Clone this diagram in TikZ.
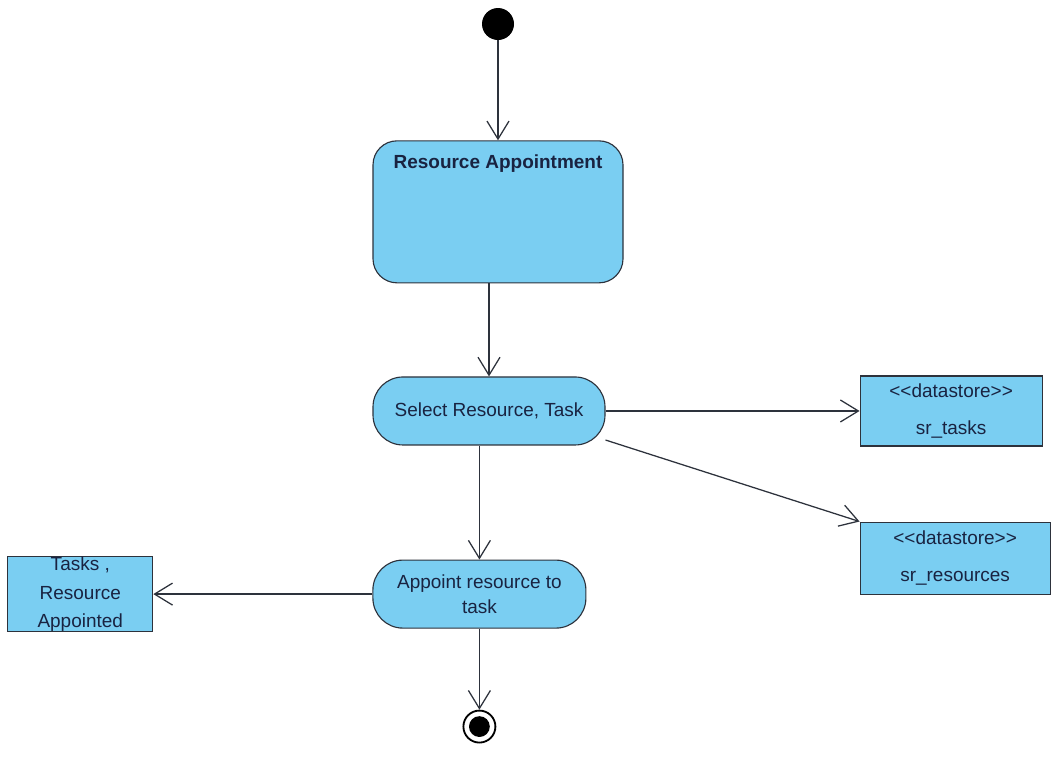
\documentclass[tikz,border=0pt]{standalone}
\usepackage{fontspec}
\setmainfont{Liberation Sans}
\usetikzlibrary{positioning}
\usetikzlibrary{arrows.meta}

\definecolor{actblue}{RGB}{122,206,242}
\definecolor{edgegray}{RGB}{45,50,60}
\definecolor{textnavy}{RGB}{25,35,65}

\begin{document}
\begin{tikzpicture}[
                          startnode/.style={circle, fill=black, minimum size=8mm, inner sep=0pt},
                          endnode/.style={circle, draw, line width=1.3pt, minimum size=8mm, inner sep=0pt,
                                          path picture={\fill (path picture bounding box.center) circle (2.6mm);}},
                          actnode/.style={rectangle, rounded corners=7.5mm, draw=edgegray, fill=actblue, thick,
                                          text=textnavy, font=\fontsize{13.5}{18}\selectfont, align=center},
                          storenode/.style={rectangle, draw=edgegray, fill=actblue, thick, inner sep=0pt,
                                          text=textnavy, font=\fontsize{13.5}{26}\selectfont, align=center},
                          flow/.style={-{Straight Barb[length=4.5mm, width=5.5mm]}, draw=edgegray, line width=0.9pt},
                      ]
                      \useasboundingbox (0,0) rectangle (26.3,-19.3);

                      %Nodes
                      \node[startnode]      (start)   at (12.45,-0.6)          {};
                      \node[actnode, minimum width=6.25cm, minimum height=3.55cm, rounded corners=6mm,
                            label={[anchor=center, yshift=-0.575cm, text=textnavy, font=\fontsize{13.5}{16}\selectfont\bfseries]north:Resource Appointment}]
                                            (ra)      [below=2.5cm of start]   {};
                      \node[actnode, minimum width=5.8cm, minimum height=1.7cm]
                                            (select)  [below=2.325cm of ra, xshift=-0.225cm] {Select Resource, Task};
                      \node[actnode, minimum width=5.325cm, minimum height=1.7cm]
                                            (appoint) [below=2.85cm of select, xshift=-0.24cm] {Appoint resource to\\task};
                      \node[endnode]        (end)     [below=2.025cm of appoint] {};
                      \node[storenode, minimum width=4.55cm, minimum height=1.75cm]
                                            (tasks)   [right=6.35cm of select] {<{}<datastore>{}>\\sr\_tasks};
                      \node[storenode, minimum width=4.75cm, minimum height=1.8cm, anchor=north west]
                                            (res)     at ([yshift=-1.875cm]tasks.south west) {<{}<datastore>{}>\\sr\_resources};
                      \node[storenode, minimum width=3.625cm, minimum height=1.85cm, font=\fontsize{13.5}{20.5}\selectfont]
                                            (out)     [left=5.475cm of appoint] {Tasks ,\\Resource\\Appointed};

                      %Lines
                      \draw[flow] (start) -- (ra);
                      \draw[flow] (ra.south -| select.north) -- (select.north);
                      \draw[flow] (select) -- (tasks);
                      \draw[flow] (select.-14) -- (res.north west);
                      \draw[flow] (select.south -| appoint.north) -- (appoint.north);
                      \draw[flow] (appoint) -- (out);
                      \draw[flow] (appoint) -- (end);
                  \end{tikzpicture}
\end{document}
